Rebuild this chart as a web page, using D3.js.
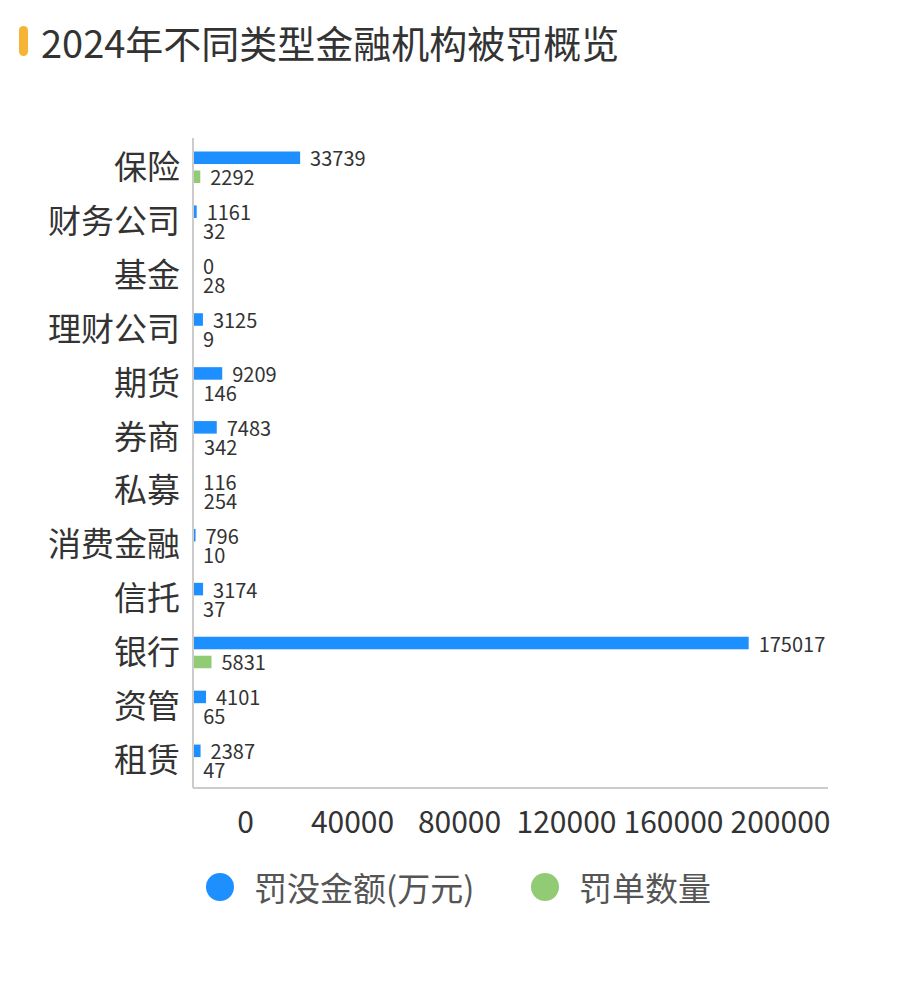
<!DOCTYPE html>
<html>
<head>
<meta charset="utf-8">
<script src="https://cdn.jsdelivr.net/npm/d3@7"></script>
<style>
  body { margin: 0; background: #fff; }
  svg text { font-family: "Noto Sans CJK SC", "Noto Sans", sans-serif; }
</style>
</head>
<body>
<svg id="chart"></svg>
<script>
'use strict';

// data
const categories = ['保险', '财务公司', '基金', '理财公司', '期货', '券商', '私募', '消费金融', '信托', '银行', '资管', '租赁'];
const amounts = [33739, 1161, 0, 3125, 9209, 7483, 116, 796, 3174, 175017, 4101, 2387];
const counts = [2292, 32, 28, 9, 146, 342, 254, 10, 37, 5831, 65, 47];
const seriesNames = ['罚没金额(万元)', '罚单数量'];
const tickValues = [0, 40000, 80000, 120000, 160000, 200000];

const colors = ['#1e8fff', '#91cc75'];
const width = 900;
const height = 981;

const svg = d3.select('#chart')
    .attr('width', width)
    .attr('height', height);

// title with orange marker
svg.append('rect')
    .attr('x', 19)
    .attr('y', 26)
    .attr('width', 9)
    .attr('height', 30)
    .attr('rx', 4.5)
    .attr('fill', '#f7b335');
svg.append('text')
    .attr('x', 41)
    .attr('y', 41)
    .attr('dominant-baseline', 'central')
    .attr('font-size', 38)
    .attr('fill', '#333')
    .text('2024年不同类型金融机构被罚概览');

const x = d3.scaleLinear()
    .domain([0, 200000])
    .range([193, 828]);
const y = d3.scaleBand()
    .domain(categories)
    .range([138, 785]);
const sub = d3.scaleBand()
    .domain(seriesNames)
    .range([13.5, 45])
    .paddingInner(0.34);

const rows = categories.map((c, i) => ({cat: c, vals: [amounts[i], counts[i]]}));

const row = svg.selectAll('g.row')
    .data(rows)
    .enter().append('g')
    .attr('class', 'row')
    .attr('transform', (d) => 'translate(0,' + y(d.cat) + ')');

row.selectAll('rect')
    .data((d) => d.vals.map((v, k) => ({v: v, k: k})))
    .enter().append('rect')
    .attr('x', x(0))
    .attr('y', (d) => sub(seriesNames[d.k]))
    .attr('width', (d) => x(d.v) - x(0))
    .attr('height', sub.bandwidth())
    .attr('fill', (d) => colors[d.k]);

row.selectAll('text.val')
    .data((d) => d.vals.map((v, k) => ({v: v, k: k})))
    .enter().append('text')
    .attr('class', 'val')
    .attr('x', (d) => x(d.v) + 10)
    .attr('y', (d) => sub(seriesNames[d.k]) + sub.bandwidth() / 2)
    .attr('dominant-baseline', 'central')
    .attr('font-size', 20)
    .attr('fill', '#333')
    .text((d) => d.v);

// category labels
svg.append('g')
    .selectAll('text')
    .data(categories)
    .enter().append('text')
    .attr('x', 180)
    .attr('y', (d) => y(d) + y.bandwidth() / 2)
    .attr('text-anchor', 'end')
    .attr('dominant-baseline', 'central')
    .attr('font-size', 33)
    .attr('fill', '#333')
    .text((d) => d);

// axis lines
svg.append('line')
    .attr('x1', x(0)).attr('x2', x(0))
    .attr('y1', 138).attr('y2', 788)
    .attr('stroke', '#ccc')
    .attr('stroke-width', 2);
svg.append('line')
    .attr('x1', x(0)).attr('x2', x(200000))
    .attr('y1', 788).attr('y2', 788)
    .attr('stroke', '#ccc')
    .attr('stroke-width', 2);

// tick labels sit squeezed to the left of the true tick spots in the source
const tickX = d3.scaleLinear()
    .domain([0, 200000])
    .range([245, 780]);
const xAxis = svg.append('g')
    .attr('transform', 'translate(0,820)')
    .call(d3.axisBottom(tickX).tickValues(tickValues).tickSize(0).tickPadding(0).tickFormat(d3.format('d')));
xAxis.select('.domain').remove();
xAxis.selectAll('text')
    .attr('font-size', 30)
    .attr('fill', '#333')
    .attr('dy', null)
    .attr('dominant-baseline', 'central')
    .style('font-family', '"Noto Sans CJK SC", sans-serif');

// legend
const legendX = [220, 545];
const legend = svg.selectAll('g.legend')
    .data(seriesNames)
    .enter().append('g')
    .attr('class', 'legend')
    .attr('transform', (d, i) => 'translate(' + legendX[i] + ',887)');
legend.append('circle')
    .attr('r', 14)
    .attr('fill', (d, i) => colors[i]);
legend.append('text')
    .attr('x', 34)
    .attr('dominant-baseline', 'central')
    .attr('font-size', 33)
    .attr('fill', '#555')
    .text((d) => d);
</script>
</body>
</html>
